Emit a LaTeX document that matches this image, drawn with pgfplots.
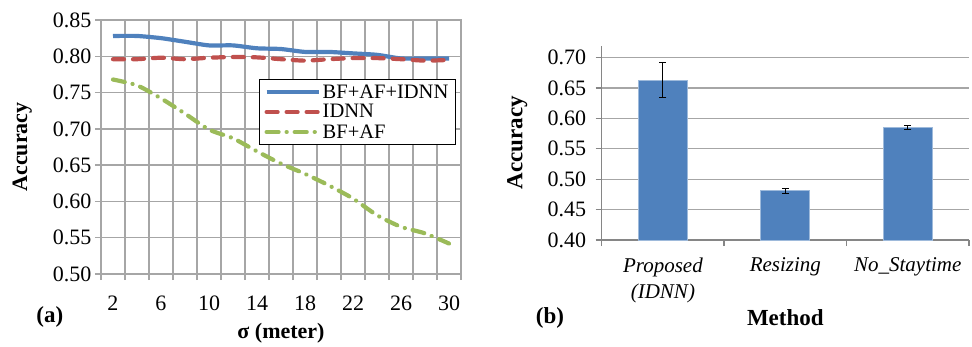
\documentclass[border=0pt]{standalone}
\usepackage{pgfplots}
\pgfplotsset{compat=1.18}
\usepackage{fontspec}
\setmainfont{Liberation Serif}
\definecolor{xblue}{HTML}{4F81BD}
\definecolor{xred}{HTML}{C0504D}
\definecolor{xgreen}{HTML}{9BBB59}
\definecolor{gridgray}{HTML}{A6A6A6}
\definecolor{axgray}{HTML}{868686}
\begin{document}
\begin{tikzpicture}
\useasboundingbox (0,0) rectangle (972pt,346pt);
% ---------------- (a) ----------------
\begin{axis}[
  at={(101pt,72pt)}, anchor=south west,
  width=360pt, height=254pt, scale only axis,
  clip mode=individual,
  xmin=1, xmax=31, ymin=0.5, ymax=0.85,
  xtick={2,6,...,30},
  minor xtick={1,3,...,31},
  major x tick style={draw=none},
  ytick={0.5,0.55,0.6,0.65,0.7,0.75,0.8,0.85},
  xminorgrids, ymajorgrids,
  grid style={gridgray, line width=1.3pt},
  minor grid style={gridgray, line width=1.3pt},
  axis line style={gridgray, line width=1.3pt},
  tick style={gridgray, line width=1.3pt},
  major tick length=6pt, minor tick length=6pt,
  tick align=outside, tick pos=left,
  /pgf/number format/assume math mode=true,
  yticklabel style={/pgf/number format/.cd, fixed, fixed zerofill, precision=2},
  tick label style={font=\rmfamily\fontsize{22}{22}\selectfont, black},
  xticklabel style={yshift=-12pt},
  xlabel={\textbf{σ (meter)}},
  ylabel={\textbf{Accuracy}},
  label style={font=\rmfamily\fontsize{22}{22}\selectfont},
  xlabel style={at={(axis description cs:0.5,-0.232)}, anchor=center},
  ylabel style={at={(axis description cs:-0.219,0.5)}, anchor=center},
  legend style={at={(0.986,0.768)}, anchor=north east, draw=black, line width=1.2pt,
    font=\rmfamily\fontsize{20.5}{20.5}\selectfont, inner xsep=5pt, inner ysep=3pt, row sep=1pt},
  legend cell align=left,
  legend image code/.code={\draw[#1] (0pt,0pt) -- (52pt,0pt);},
]
\addplot[xblue, line width=4.2pt, smooth, tension=0.4] coordinates {
 (2,0.828) (4,0.828) (6,0.825) (8,0.820) (10,0.815) (12,0.815) (14,0.811) (16,0.810)
 (18,0.806) (20,0.806) (22,0.804) (24,0.802) (26,0.797) (28,0.797) (30,0.797)};
\addlegendentry{BF+AF+IDNN}
\addplot[xred, line width=4.2pt, line cap=round, dash pattern=on 11pt off 9pt, smooth, tension=0.4] coordinates {
 (2,0.796) (4,0.796) (6,0.798) (8,0.796) (10,0.798) (12,0.799) (14,0.7985) (16,0.796)
 (18,0.794) (20,0.796) (22,0.7975) (24,0.7975) (26,0.796) (28,0.794) (30,0.795)};
\addlegendentry{IDNN}
\addplot[xgreen, line width=4.2pt, line cap=round, dash pattern=on 12pt off 8pt on 0.1pt off 8pt, smooth, tension=0.4] coordinates {
 (2,0.768) (4,0.760) (6,0.742) (8,0.721) (10,0.699) (12,0.687) (14,0.669) (16,0.652)
 (18,0.638) (20,0.622) (22,0.604) (24,0.581) (26,0.565) (28,0.556) (30,0.542)};
\addlegendentry{BF+AF}
\node[font=\rmfamily\fontsize{23}{23}\selectfont\bfseries] at (axis description cs:-0.142,-0.169) {(a)};
\end{axis}
% ---------------- (b) ----------------
\begin{axis}[
  at={(601.7pt,106pt)}, anchor=south west,
  width=367.3pt, height=194.5pt, scale only axis,
  clip mode=individual,
  xmin=0.5, xmax=3.5, ymin=0.4, ymax=0.72,
  axis x line*=bottom, axis y line*=left,
  axis line style={axgray, line width=1.3pt, -},
  xtick={1,2,3},
  xticklabels={{Proposed\\(IDNN)}, {Resizing}, {No\_Staytime}},
  minor xtick={0.5,1.5,2.5,3.5},
  major x tick style={draw=none},
  ytick={0.4,0.45,0.5,0.55,0.6,0.65,0.7},
  ymajorgrids,
  grid style={gridgray, line width=1.3pt},
  tick style={axgray, line width=1.3pt},
  major tick length=6pt, minor tick length=6pt,
  tick align=outside,
  /pgf/number format/assume math mode=true,
  tick label style={font=\rmfamily\fontsize{22}{22}\selectfont, black},
  yticklabel style={xshift=-6pt, /pgf/number format/.cd, fixed, fixed zerofill, precision=2},
  xticklabel style={font=\rmfamily\fontsize{21}{26}\selectfont\itshape, align=center, yshift=-8pt},
  xlabel={\textbf{Method}},
  ylabel={\textbf{Accuracy}},
  label style={font=\rmfamily\fontsize{23}{23}\selectfont},
  xlabel style={at={(axis description cs:0.5,-0.401)}, anchor=center},
  ylabel style={at={(axis description cs:-0.23,0.5)}, anchor=center},
  ybar, bar width=49pt,
]
\addplot[fill=xblue, draw=xblue!55!white, line width=0.8pt,
  error bars/.cd, y dir=both, y explicit,
  error bar style={black, line width=1pt},
  error mark=-,
  error mark options={rotate=90, black, mark size=3.5pt, line width=1pt}]
 coordinates {(1,0.663) +- (0,0.029) (2,0.481) +- (0,0.004) (3,0.585) +- (0,0.0035)};
\node[font=\rmfamily\fontsize{23}{23}\selectfont\bfseries] at (axis description cs:-0.141,-0.401) {(b)};
\end{axis}
\end{tikzpicture}
\end{document}
